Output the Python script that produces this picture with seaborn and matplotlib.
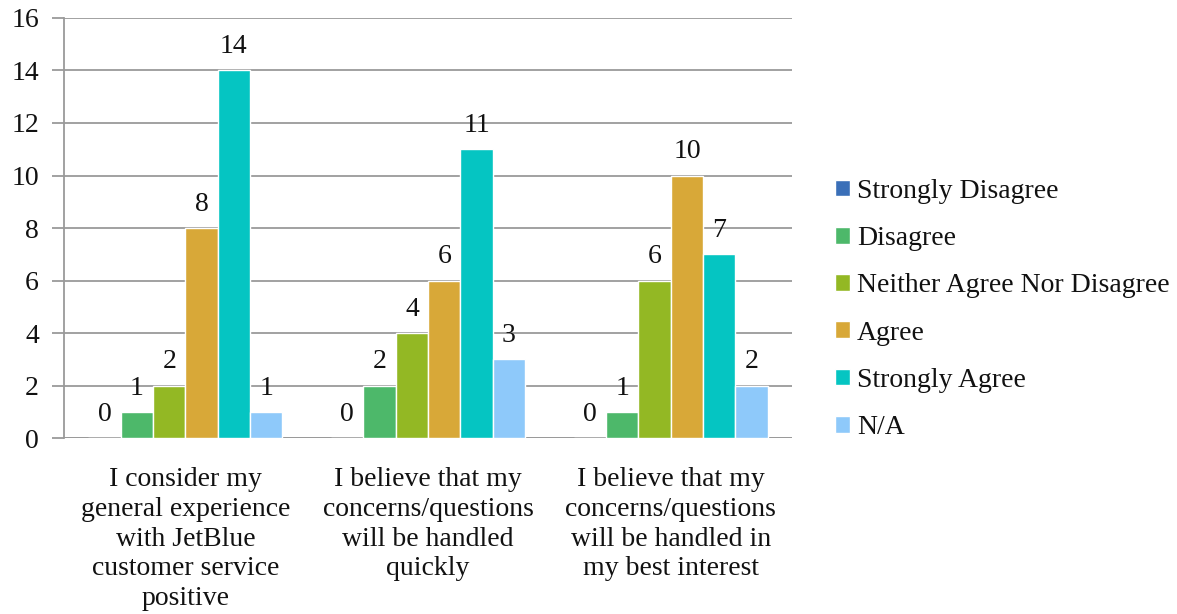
import numpy as np
import pandas as pd
import matplotlib
matplotlib.use("Agg")
import matplotlib.pyplot as plt
import seaborn as sns

# survey responses (counts)
questions = [
    "I consider my\ngeneral experience\nwith JetBlue\ncustomer service\npositive",
    "I believe that my\nconcerns/questions\nwill be handled\nquickly",
    "I believe that my\nconcerns/questions\nwill be handled in\nmy best interest",
]
responses = ["Strongly Disagree", "Disagree", "Neither Agree Nor Disagree",
             "Agree", "Strongly Agree", "N/A"]
strongly_disagree = [0, 0, 0]
disagree = [1, 2, 1]
neither = [2, 4, 6]
agree = [8, 6, 10]
strongly_agree = [14, 11, 7]
not_applicable = [1, 3, 2]

colors = ["#3A6FB8", "#4DB86A", "#93B824", "#D8A838", "#05C5C2", "#8EC9FA"]

series = [strongly_disagree, disagree, neither, agree, strongly_agree, not_applicable]
rows = []
for resp, vals in zip(responses, series):
    for q, v in zip(questions, vals):
        rows.append({"question": q, "response": resp, "count": v})
df = pd.DataFrame(rows)

sns.set_theme(style="white")
plt.rcParams["font.family"] = ["Liberation Serif", "DejaVu Serif"]

fig = plt.figure(figsize=(11.77, 6.14), dpi=100)
ax = fig.add_axes([0.0544, 0.2866, 0.6186, 0.6841])

sns.barplot(data=df, x="question", y="count", hue="response", hue_order=responses,
            order=questions, palette=colors, width=0.8, saturation=1, ax=ax,
            legend=True)

for c in ax.containers:
    ax.bar_label(c, padding=8, fontsize=20, color="#111111")

ax.set_ylim(0, 16)
ax.set_yticks(range(0, 17, 2))
ax.yaxis.grid(True, color="#9a9a9a", linewidth=1.3)
ax.set_axisbelow(True)
for s in ["top", "right", "bottom"]:
    ax.spines[s].set_visible(False)
ax.spines["left"].set_color("#9a9a9a")
ax.spines["left"].set_linewidth(1.3)
ax.axhline(0, color="#9a9a9a", linewidth=1.3, zorder=0)
ax.tick_params(axis="y", which="both", left=True, length=9, width=1.3,
               color="#9a9a9a", labelsize=20, pad=9, labelcolor="#111111")
ax.tick_params(axis="x", bottom=False, labelsize=20, pad=15, labelcolor="#111111")
for t in ax.get_xticklabels():
    t.set_linespacing(1.25)
ax.set_xlabel("")
ax.set_ylabel("")

handles, labels = ax.get_legend_handles_labels()
ax.get_legend().remove()
fig.legend(handles, labels, loc="center left", bbox_to_anchor=(0.688, 0.496),
           frameon=False, fontsize=20, labelspacing=0.8, handlelength=0.55,
           handleheight=0.55, handletextpad=0.25, labelcolor="#111111")

fig.savefig("out.png", dpi=100)
